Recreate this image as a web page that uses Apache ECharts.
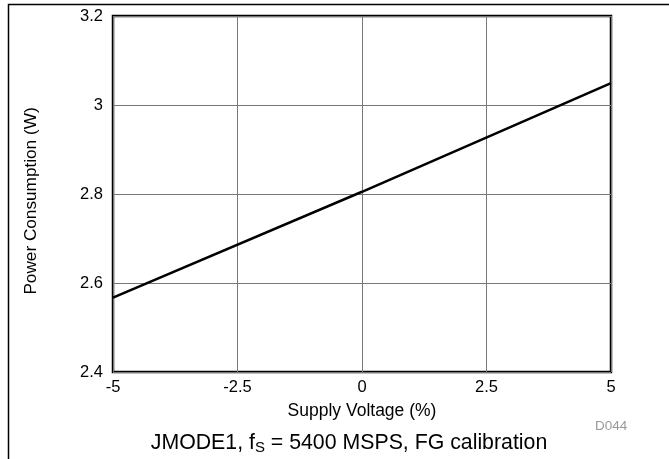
<!DOCTYPE html>
<html><head><meta charset="utf-8">
<script src="https://cdn.jsdelivr.net/npm/echarts@6/dist/echarts.min.js"></script>
<style>html,body{margin:0;padding:0;background:#fff}#c{width:669px;height:459px}</style>
</head><body><div id="c"></div>
<script>
const supplyVoltage = [-5, 0, 5];
const powerW = [2.567, 2.805, 3.049];
const xTicks = [-5, -2.5, 0, 2.5, 5];
const yTicks = [2.4, 2.6, 2.8, 3.0, 3.2];

const chart = echarts.init(document.getElementById('c'));
const F = 'Liberation Sans, Arial, sans-serif';
chart.setOption({
  animation: false,
  backgroundColor: '#fff',
  grid: { left: 113, top: 16, width: 498, height: 356, show: true, borderColor: '#000', borderWidth: 2.5, backgroundColor: 'transparent' },
  xAxis: {
    type: 'value', min: -5, max: 5, interval: 2.5,
    axisLine: { show: false }, axisTick: { show: false },
    splitLine: { show: true, lineStyle: { color: '#777', width: 1 } },
    axisLabel: { color: '#000', fontFamily: F, fontSize: 16.5, margin: 7,
      formatter: v => { return xTicks.some(t => Math.abs(t - v) < 1e-9) ? String(v) : ''; } },
    name: 'Supply Voltage (%)', nameLocation: 'middle', nameGap: 30,
    nameTextStyle: { color: '#000', fontFamily: F, fontSize: 17.5 }
  },
  yAxis: {
    type: 'value', min: 2.4, max: 3.2, interval: 0.2,
    axisLine: { show: false }, axisTick: { show: false },
    splitLine: { show: true, lineStyle: { color: '#777', width: 1 } },
    axisLabel: { color: '#000', fontFamily: F, fontSize: 16.5, margin: 10,
      formatter: v => { const r = Math.round(v * 10) / 10; return yTicks.some(t => Math.abs(t - r) < 1e-9) ? String(r) : ''; } },
    name: 'Power Consumption (W)', nameLocation: 'middle', nameGap: 73, nameRotate: 90,
    nameTextStyle: { color: '#000', fontFamily: F, fontSize: 17.2, padding: [0, 14, 0, 0] }
  },
  series: [{
    type: 'line', data: supplyVoltage.map((x, i) => [x, powerW[i]]),
    showSymbol: false, lineStyle: { color: '#000', width: 2.5 }, z: 5
  }],
  graphic: [
    { type: 'rect', left: 6, top: 2, shape: { width: 700, height: 500 }, style: { fill: 'none', stroke: '#000', lineWidth: 1.5 }, silent: true },
    { type: 'text', left: 595, top: 419, style: { text: 'D044', fill: '#999', font: '13.5px ' + F } },
    { type: 'text', x: 349, y: 443, style: {
        text: '{a|JMODE1, f}{s|S}{a| = 5400 MSPS, FG calibration}',
        align: 'center', verticalAlign: 'middle',
        rich: { a: { fontFamily: F, fontSize: 21.3, fill: '#000', color: '#000' },
                s: { fontFamily: F, fontSize: 15, fill: '#000', color: '#000', padding: [10, 0, 0, 0] } } } }
  ]
});
</script></body></html>
